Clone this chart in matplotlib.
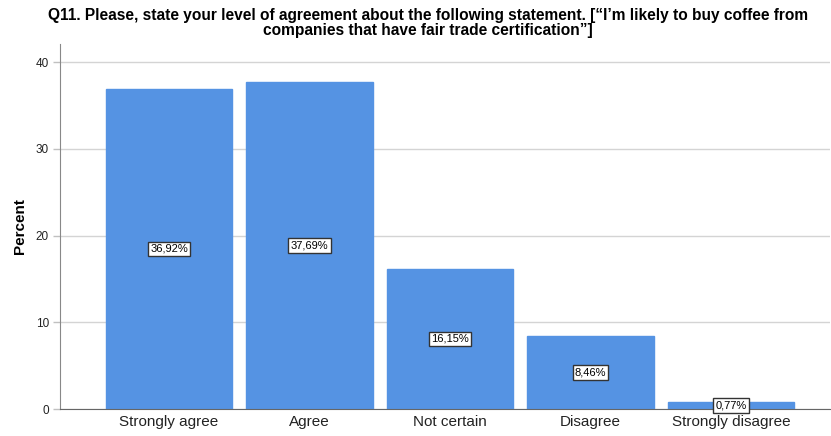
import matplotlib.pyplot as plt
from matplotlib import font_manager

# ── Data ──────────────────────────────────────────────────────
categories = ['Strongly agree', 'Agree', 'Not certain', 'Disagree', 'Strongly disagree']
percents = [36.92, 37.69, 16.15, 8.46, 0.77]
labels = ['36,92%', '37,69%', '16,15%', '8,46%', '0,77%']
yticks = [0, 10, 20, 30, 40]

title = ('Q11. Please, state your level of agreement about the following statement. '
         '[\u201cI\u2019m likely to buy coffee from\ncompanies that have fair trade certification\u201d]')

names = {f.name for f in font_manager.fontManager.ttflist}
title_font = 'Liberation Sans Narrow' if 'Liberation Sans Narrow' in names else 'Liberation Sans'
plt.rcParams['font.family'] = ['Liberation Sans', 'DejaVu Sans']

# ── Plot ──────────────────────────────────────────────────────
fig = plt.figure(figsize=(8.31, 4.36), dpi=100)
ax = fig.add_axes([60 / 831, 27 / 436, 770 / 831, 365 / 436])

x = range(len(categories))
ax.bar(x, percents, width=0.9, color='#5593E3', edgecolor='#5593E3', zorder=2)

for xi, p, lab in zip(x, percents, labels):
    ax.text(xi, p / 2, lab, ha='center', va='center', fontsize=8, zorder=3,
            bbox=dict(boxstyle='square,pad=0.2', fc='white', ec='#333333', lw=1))

ax.set_xlim(-0.776, 4.705)
ax.set_ylim(0, 42.1)
ax.set_xticks(list(x))
ax.set_xticklabels(categories, fontsize=11, color='#222222')
ax.set_yticks(yticks)
ax.set_yticklabels([str(t) for t in yticks], fontsize=8.5, color='#222222')
ax.tick_params(axis='x', length=0, pad=4)
ax.tick_params(axis='y', length=5, width=1, color='#c0c0c0', direction='out', pad=3)
ax.yaxis.grid(True, color='#d4d4d4', linewidth=1, zorder=0)

for side in ['top', 'right']:
    ax.spines[side].set_visible(False)
ax.spines['left'].set_color('#888888')
ax.spines['bottom'].set_color('#666666')

ax.set_ylabel('Percent', fontsize=11, fontweight='bold', labelpad=6)
fig.text(0.515, 0.982, title, ha='center', va='top', fontsize=11.2, fontweight='bold',
         family=title_font, linespacing=1.0)

fig.savefig('out.png', dpi=100)
